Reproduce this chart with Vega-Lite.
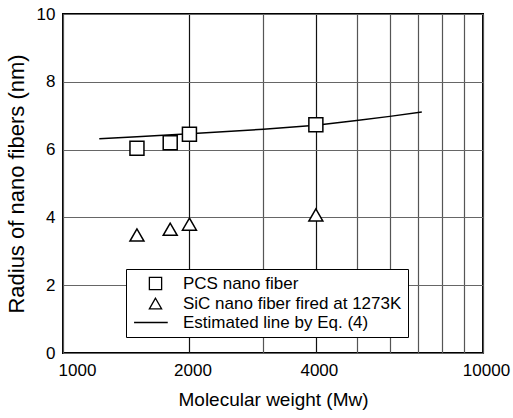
{
  "$schema": "https://vega.github.io/schema/vega-lite/v6.json",
  "width": 420,
  "height": 339,
  "autosize": "none",
  "padding": {"left": 63, "top": 14, "right": 30, "bottom": 65},
  "background": "white",
  "config": {
    "font": "Liberation Sans",
    "view": {"stroke": "black", "strokeWidth": 2},
    "axis": {"domain": false, "ticks": false, "labelColor": "black", "titleColor": "black", "titleFontWeight": "normal"}
  },
  "datasets": {
    "points": [
      {"mw": 1500, "r": 6.04, "series": "PCS nano fiber"},
      {"mw": 1800, "r": 6.2, "series": "PCS nano fiber"},
      {"mw": 2000, "r": 6.45, "series": "PCS nano fiber"},
      {"mw": 4000, "r": 6.73, "series": "PCS nano fiber"},
      {"mw": 1500, "r": 3.48, "series": "SiC nano fiber fired at 1273K"},
      {"mw": 1800, "r": 3.65, "series": "SiC nano fiber fired at 1273K"},
      {"mw": 2000, "r": 3.8, "series": "SiC nano fiber fired at 1273K"},
      {"mw": 4000, "r": 4.07, "series": "SiC nano fiber fired at 1273K"}
    ],
    "line": [
      {"mw": 1220, "r": 6.32},
      {"mw": 1500, "r": 6.38},
      {"mw": 2000, "r": 6.47},
      {"mw": 3000, "r": 6.6},
      {"mw": 4000, "r": 6.72},
      {"mw": 5000, "r": 6.86},
      {"mw": 6000, "r": 6.98},
      {"mw": 7150, "r": 7.11}
    ]
  },
  "layer": [
    {
      "data": {"name": "line"},
      "mark": {"type": "line", "color": "black", "strokeWidth": 1.5},
      "encoding": {
        "x": {
          "field": "mw", "type": "quantitative",
          "scale": {"type": "log", "domain": [1000, 10000]},
          "axis": {
            "title": "Molecular weight (Mw)",
            "values": [1000, 2000, 3000, 4000, 5000, 6000, 7000, 8000, 9000, 10000],
            "labelExpr": "indexof([1000, 2000, 4000, 10000], datum.value) >= 0 ? datum.value + '' : ''",
            "labelFontSize": 17,
            "labelPadding": 9,
            "labelOverlap": false,
            "labelFlush": false,
            "labelOffset": {"condition": {"test": "datum.value == 1000", "value": 14}, "value": 3},
            "titleFontSize": 19,
            "titlePadding": 12,
            "grid": true,
            "gridColor": {"condition": {"test": "datum.value == 2000 || datum.value == 4000", "value": "#111111"}, "value": "#555555"},
            "gridWidth": 1.2
          }
        },
        "y": {
          "field": "r", "type": "quantitative",
          "scale": {"domain": [0, 10]},
          "axis": {
            "title": "Radius of nano fibers (nm)",
            "values": [0, 2, 4, 6, 8, 10],
            "labelFontSize": 17,
            "labelPadding": 8,
            "titleFontSize": 22,
            "titlePadding": 8,
            "grid": true,
            "gridColor": "#666666",
            "gridWidth": 1
          }
        }
      }
    },
    {
      "data": {"name": "points"},
      "transform": [{"filter": "datum.series == 'PCS nano fiber'"}],
      "mark": {"type": "point", "shape": "square", "filled": true, "color": "white", "opacity": 1, "size": 196},
      "encoding": {
        "x": {"field": "mw", "type": "quantitative"},
        "y": {"field": "r", "type": "quantitative"}
      }
    },
    {
      "data": {"name": "points"},
      "transform": [{"filter": "datum.series != 'PCS nano fiber'"}],
      "mark": {"type": "point", "shape": "triangle-up", "filled": true, "color": "white", "opacity": 1, "size": 196},
      "encoding": {
        "x": {"field": "mw", "type": "quantitative"},
        "y": {"field": "r", "type": "quantitative"}
      }
    },
    {
      "data": {"name": "points"},
      "mark": {"type": "point", "filled": false, "color": "black", "strokeWidth": 1.5, "opacity": 1},
      "encoding": {
        "x": {"field": "mw", "type": "quantitative"},
        "y": {"field": "r", "type": "quantitative"},
        "size": {"value": 196},
        "shape": {
          "field": "series", "type": "nominal",
          "scale": {
            "domain": ["PCS nano fiber", "SiC nano fiber fired at 1273K", "Estimated line by Eq. (4)"],
            "range": ["square", "triangle-up", "M-3.5,0L2,0"]
          },
          "legend": {
            "title": null,
            "orient": "none",
            "legendX": 63,
            "legendY": 255,
            "fillColor": "white",
            "strokeColor": "black",
            "padding": 6,
            "symbolOffset": 15,
            "labelOffset": 19,
            "labelLimit": 400,
            "symbolSize": 150,
            "symbolStrokeColor": "black",
            "symbolStrokeWidth": 1.3,
            "labelFontSize": 17,
            "labelColor": "black",
            "rowPadding": 1
          }
        }
      }
    }
  ]
}
